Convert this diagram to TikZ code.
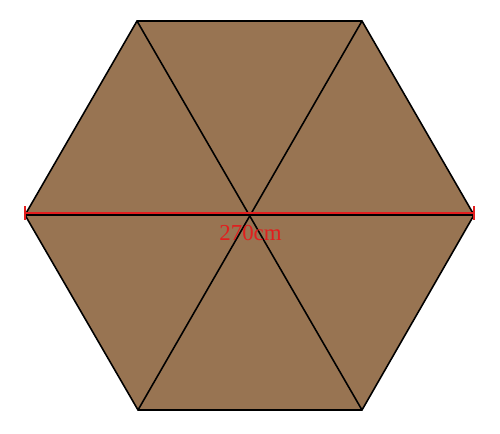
\documentclass[tikz,border=0pt]{standalone}
\usepackage{fontspec}
\setmainfont{Liberation Serif}
\usetikzlibrary{positioning, arrows}

\definecolor{umbrella}{RGB}{152,116,82}
\definecolor{measure}{RGB}{226,30,30}

\tikzset{
	panel/.style = {fill=umbrella, draw=black, line width=0.9pt, line join=miter},
	rib/.style   = {draw=black, line width=0.9pt},
	span/.style  = {draw=measure, line width=1.1pt, |-|},
}

\begin{document}
\begin{tikzpicture}[x=0.02cm, y=-0.02cm]
				\useasboundingbox (0,0) rectangle (500,433);
				
				\coordinate (tl) at (137,21);
				\coordinate (tr) at (362,21);
				\coordinate (r)  at (474,215);
				\coordinate (br) at (362,410);
				\coordinate (bl) at (138,410);
				\coordinate (l)  at (25,215);
				\coordinate (c)  at (249.5,215);
				
				\coordinate (sl) at (24,213);
				\coordinate (sr) at (475,213);
				
				\filldraw[panel] (tl) -- (tr) -- (r) -- (br) -- (bl) -- (l) -- cycle;
				
				\path
				(tl) edge[rib] (br)
				(tr) edge[rib] (bl)
				(l)  edge[rib] (r)
				;
				
				\draw[span] (sl) -- (sr);
				\node (size) [below = 0.2cm of c, xshift=0.02cm, text=measure, font=\fontsize{13}{15}\selectfont, inner sep=0pt] {270cm};
				
			\end{tikzpicture}
\end{document}
